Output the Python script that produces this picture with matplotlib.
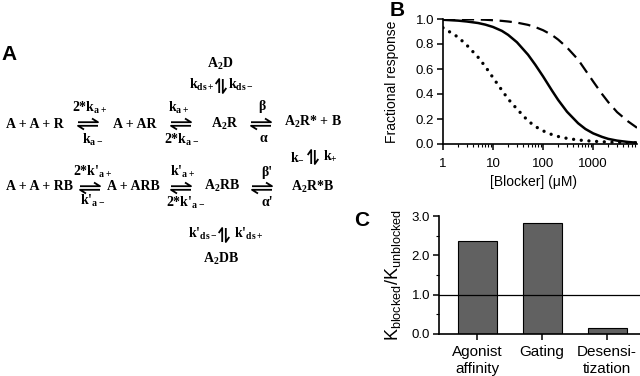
import matplotlib
matplotlib.use("Agg")
import matplotlib.pyplot as plt
from matplotlib.ticker import FixedLocator, FixedFormatter, NullFormatter, MultipleLocator

plt.rcParams["font.family"] = ["Liberation Sans", "DejaVu Sans"]
plt.rcParams["mathtext.default"] = "regular"

# panel B: fractional response vs blocker concentration
conc = [1, 2, 3, 5, 7, 10, 15, 20, 30, 50, 70, 100, 150, 200, 300, 500,
        700, 1000, 1500, 2000, 3000, 5000, 7500]
resp_solid = [0.994, 0.987, 0.98, 0.968, 0.955, 0.936, 0.905, 0.873, 0.814, 0.714,
              0.633, 0.54, 0.428, 0.352, 0.258, 0.166, 0.12, 0.085, 0.057, 0.041,
              0.027, 0.016, 0.01]
resp_dashed = [1.0, 0.999, 0.998, 0.996, 0.994, 0.99, 0.985, 0.98, 0.971, 0.953,
               0.935, 0.91, 0.872, 0.835, 0.772, 0.675, 0.59, 0.50, 0.40, 0.335,
               0.255, 0.18, 0.13]
resp_dotted = [0.93, 0.855, 0.79, 0.695, 0.62, 0.53, 0.43, 0.36, 0.28, 0.185,
               0.14, 0.105, 0.075, 0.06, 0.045, 0.032, 0.027, 0.022, 0.018,
               0.016, 0.013, 0.011, 0.01]
conc_ticks = [1, 10, 100, 1000]
conc_ticklabels = ["1", "10", "100", "1000"]

# panel C: ratio of rate constants
categories = ["Agonist\naffinity", "Gating", "Desensi-\ntization"]
ratios = [2.36, 2.83, 0.16]
unity = 1.0

SERIF = ["Liberation Serif", "DejaVu Serif"]
W, H = 640, 376

fig = plt.figure(figsize=(W / 100, H / 100), dpi=100)

# ---- panel A: kinetic scheme, drawn in pixel coordinates ----
axA = fig.add_axes([0, 0, 1, 1], zorder=-1)
axA.set_xlim(0, W)
axA.set_ylim(H, 0)
axA.axis("off")


def label(x, y, s):
    axA.text(x, y, s, ha="center", va="baseline", fontsize=10,
             fontweight="bold", family=SERIF)


def harpoon(cx, cy, vertical=False, size=10, gap=1.8, barb=(6, 3.7)):
    kw = dict(color="black", lw=1.3, solid_capstyle="butt")
    bl, bw = barb
    if not vertical:
        axA.plot([cx - size, cx + size, cx + size - bl],
                 [cy - gap, cy - gap, cy - gap - bw], **kw)
        axA.plot([cx + size, cx - size, cx - size + bl],
                 [cy + gap, cy + gap, cy + gap + bw], **kw)
    else:
        axA.plot([cx - gap, cx - gap, cx - gap - bw],
                 [cy + size, cy - size, cy - size + bl], **kw)
        axA.plot([cx + gap, cx + gap, cx + gap + bw],
                 [cy - size, cy + size, cy + size - bl], **kw)


# top row
label(35, 128, "A + A + R")
label(90, 112, "2*k$_{a+}$")
harpoon(88, 124)
label(93, 144, "k$_{a-}$")
label(135, 128, "A + AR")
label(179, 112, "k$_{a+}$")
harpoon(181, 124)
label(182, 144, "2*k$_{a-}$")
label(225, 128, "A$_2$R")
label(262, 110, "β")
harpoon(261, 124)
label(263, 142, "α")
label(313, 126, "A$_2$R* + B")
label(220, 68, "A$_2$D")
label(202, 89, "k$_{ds+}$")
harpoon(221, 86, vertical=True, size=7, barb=(5, 3.5))
label(241, 89, "k$_{ds-}$")
label(297, 160, "k$_{-}$")
harpoon(313, 157, vertical=True, size=7, barb=(5, 3.5))
label(330, 160, "k$_{+}$")
label(313, 191, "A$_2$R*B")

# bottom row
label(40, 190, "A + A + RB")
label(93, 176, "2*k'$_{a+}$")
harpoon(90, 188)
label(93, 205, "k'$_{a-}$")
label(133, 190, "A + ARB")
label(183, 176, "k'$_{a+}$")
harpoon(181, 188)
label(186, 207, "2*k'$_{a-}$")
label(222, 190, "A$_2$RB")
label(267, 176, "β'")
harpoon(262, 188)
label(267, 206, "α'")
label(203, 238, "k'$_{ds-}$")
harpoon(224, 235, vertical=True, size=7, barb=(5, 3.5))
label(249, 238, "k'$_{ds+}$")
label(221, 263, "A$_2$DB")

for s, x, y in [("A", 9, 55), ("B", 397, 11), ("C", 362, 220)]:
    axA.text(x, y, s, ha="center", va="center", fontsize=15, fontweight="bold")

# ---- panel B ----
axB = fig.add_axes([443 / W, 1 - 144 / H, 194 / W, 125 / H])
axB.plot(conc, resp_dashed, color="black", lw=1.6, ls=(0, (5.5, 3.0)))
axB.plot(conc, resp_solid, color="black", lw=1.8)
axB.plot(conc, resp_dotted, color="black", lw=2.4, ls=(0, (0.01, 2.3)),
         dash_capstyle="round")
axB.set_xscale("log")
axB.set_xlim(1, 7500)
axB.set_ylim(0, 1.0)
axB.xaxis.set_major_locator(FixedLocator(conc_ticks))
axB.xaxis.set_major_formatter(FixedFormatter(conc_ticklabels))
axB.xaxis.set_minor_locator(FixedLocator(
    [m * 10 ** e for e in range(4) for m in range(2, 10)]))
axB.xaxis.set_minor_formatter(NullFormatter())
axB.yaxis.set_major_locator(MultipleLocator(0.2))
axB.yaxis.set_major_formatter(plt.FuncFormatter(lambda v, p: f"{v:.1f}"))
axB.set_ylabel("Fractional response", fontsize=10)
axB.set_xlabel("[Blocker] (μM)", fontsize=10)
axB.yaxis.set_label_coords(-0.225, 0.5)
axB.xaxis.set_label_coords(0.464, -0.25)

# ---- panel C ----
axC = fig.add_axes([439 / W, 1 - 334 / H, 201 / W, 118 / H])
xpos = list(range(len(categories)))
axC.bar(xpos, ratios, width=0.6, color="#616161", edgecolor="black", lw=0.8)
axC.axhline(unity, color="black", lw=0.9)
axC.set_xlim(-0.585, 2.507)
axC.set_ylim(0, 3.0)
axC.set_xticks(xpos)
axC.set_xticklabels(categories, fontsize=11, linespacing=1.3)
axC.yaxis.set_major_locator(MultipleLocator(1.0))
axC.yaxis.set_minor_locator(MultipleLocator(0.5))
axC.yaxis.set_major_formatter(plt.FuncFormatter(lambda v, p: f"{v:.1f}"))
axC.set_ylabel("K$_{blocked}$/K$_{unblocked}$", fontsize=13)
axC.yaxis.set_label_coords(-0.18, 0.5)

for ax in (axB, axC):
    for side in ("top", "right"):
        ax.spines[side].set_visible(False)
    for side in ("left", "bottom"):
        ax.spines[side].set_linewidth(1.2)
    ax.tick_params(which="major", direction="out", length=4, width=1.1,
                   labelsize=9.5, pad=2.5)
    ax.tick_params(which="minor", direction="out", length=2.2, width=0.8)
axB.tick_params(axis="x", which="major", pad=6)
axC.tick_params(axis="x", which="major", labelsize=11, pad=4)

fig.savefig("out.png", dpi=100)
